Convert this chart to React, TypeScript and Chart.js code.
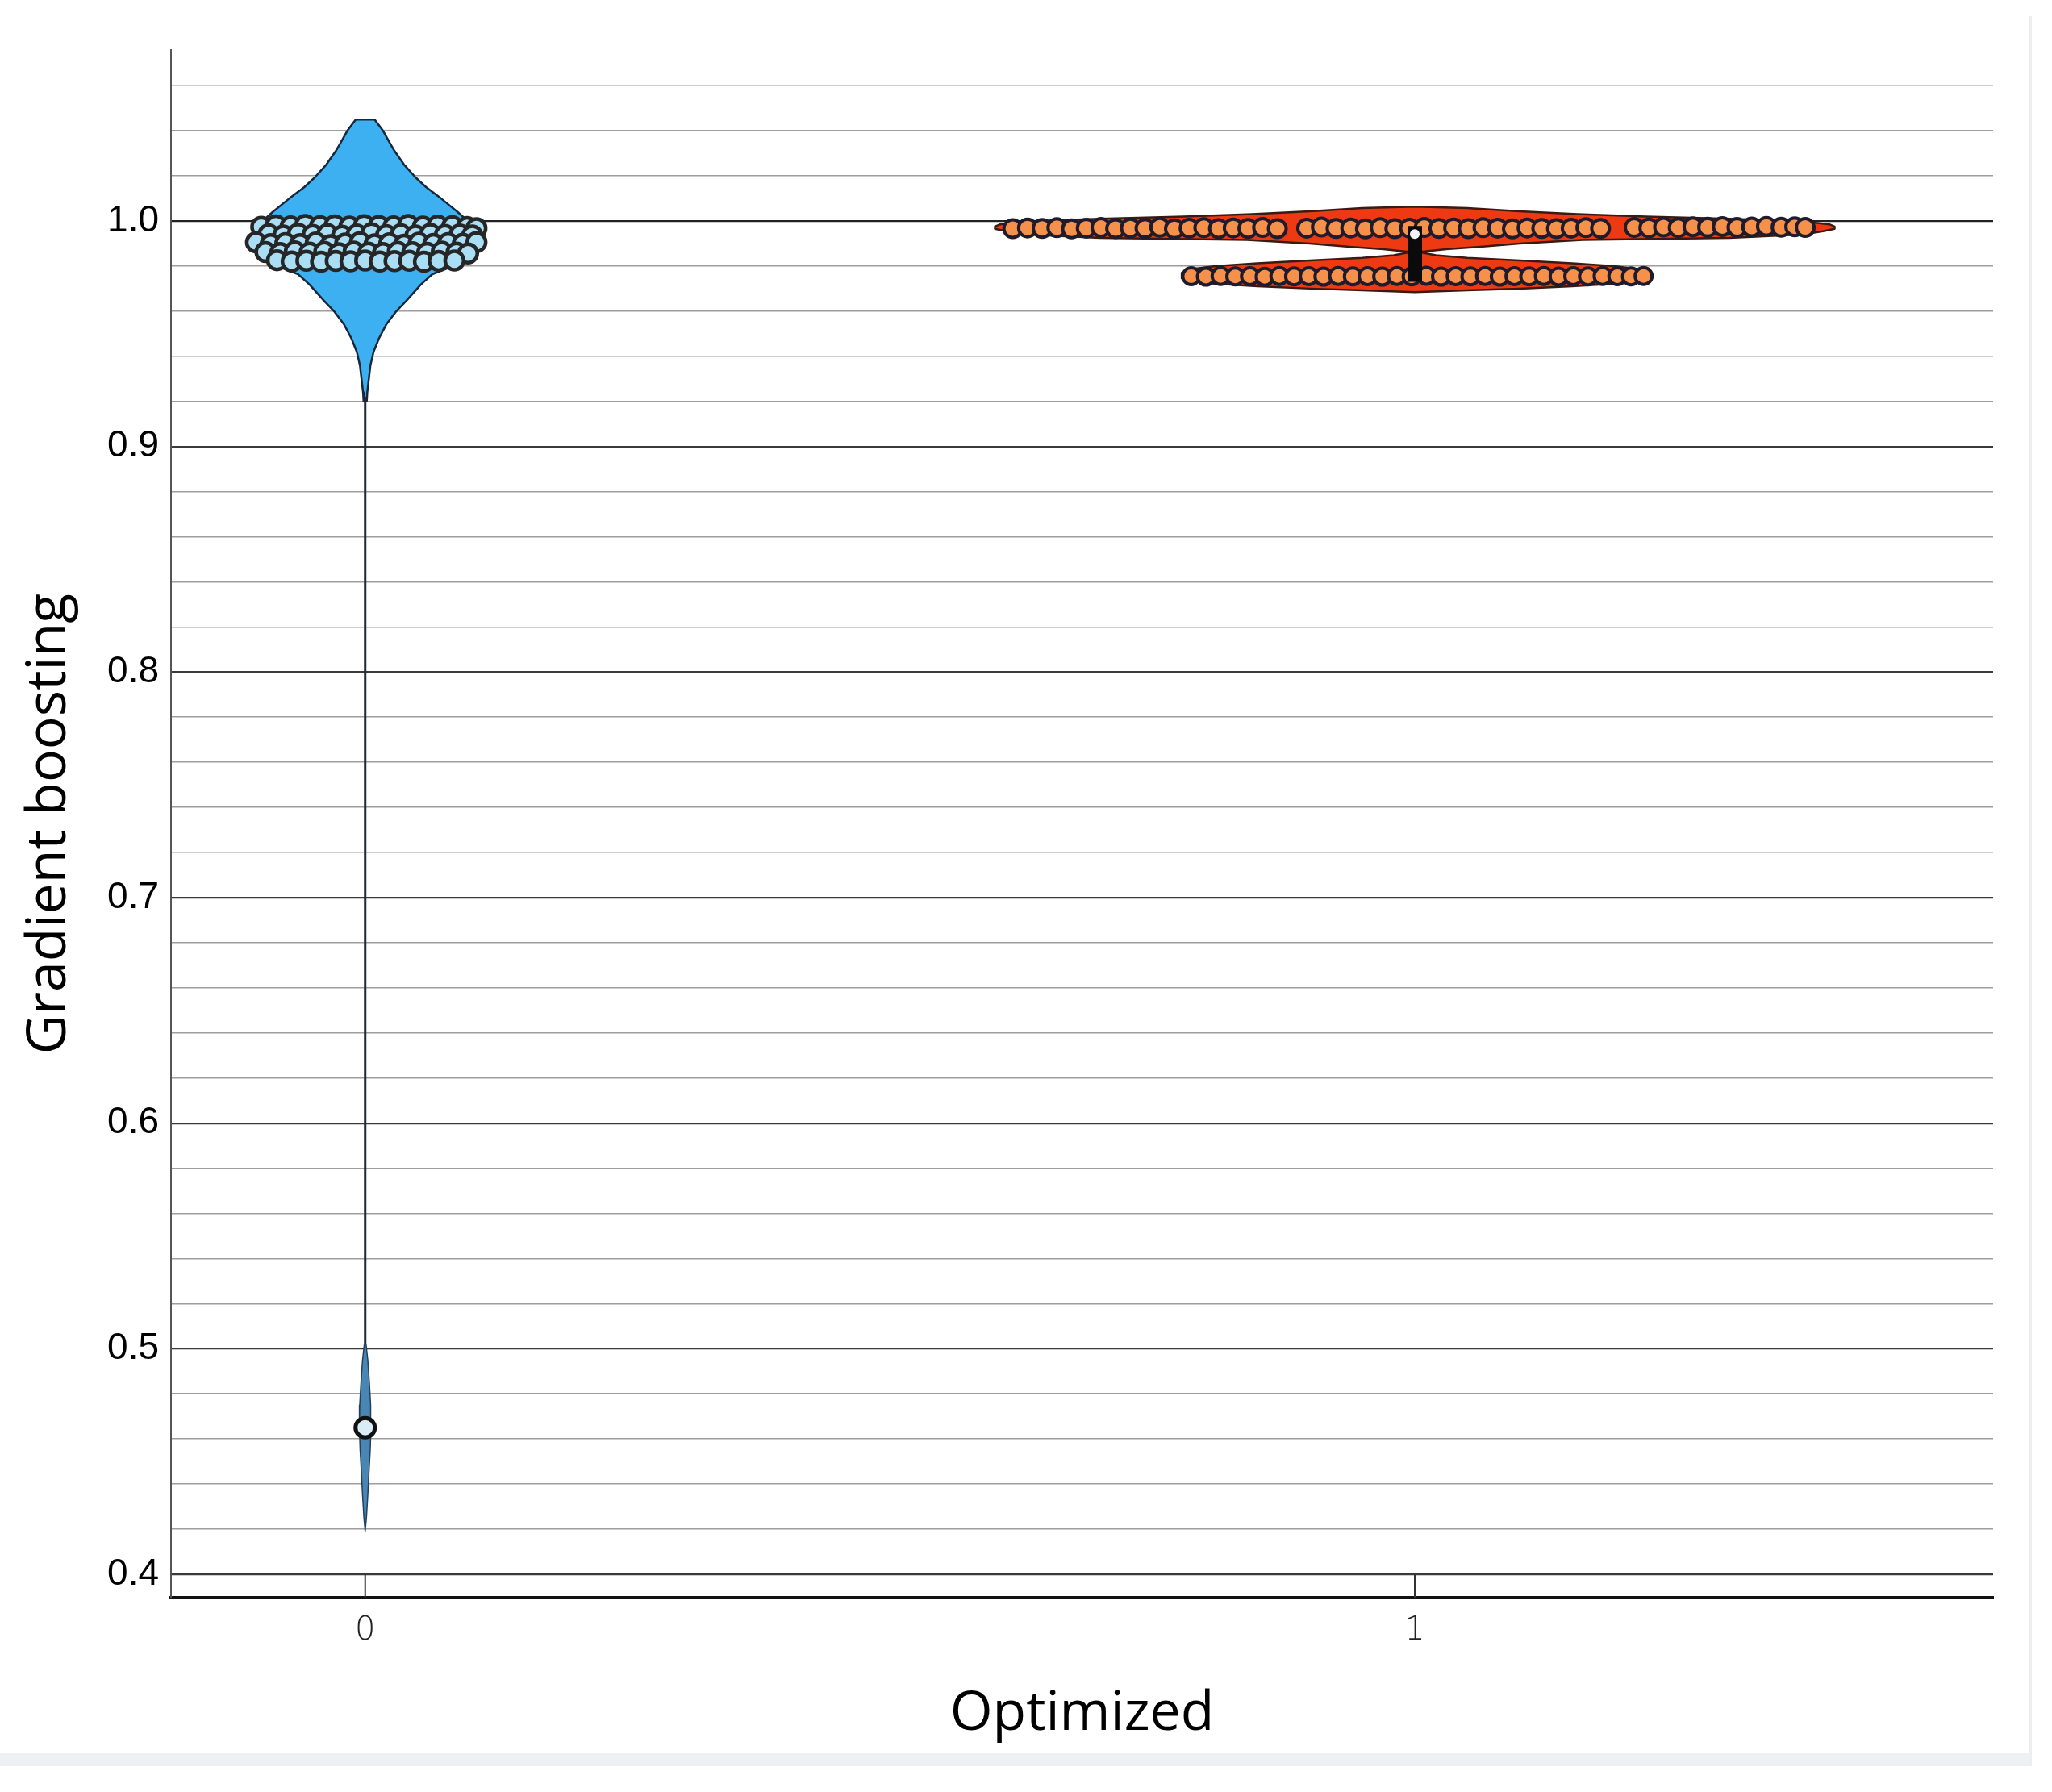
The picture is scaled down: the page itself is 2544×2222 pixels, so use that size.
import React, { useEffect, useRef } from 'react';
import { Chart, registerables } from 'chart.js';

Chart.register(...registerables);

const W = 2544;
const H = 2222;

// ---- axes / categories ----
const categories = ['0', '1'];
const xTickValues = [0, 1];
const yMajorTicks = [0.4, 0.5, 0.6, 0.7, 0.8, 0.9, 1.0];
const yMajorLabels = ['0.4', '0.5', '0.6', '0.7', '0.8', '0.9', '1.0'];
const yGridTicks = [
  0.40, 0.42, 0.44, 0.46, 0.48, 0.50, 0.52, 0.54, 0.56, 0.58, 0.60, 0.62, 0.64, 0.66, 0.68,
  0.70, 0.72, 0.74, 0.76, 0.78, 0.80, 0.82, 0.84, 0.86, 0.88, 0.90, 0.92, 0.94, 0.96, 0.98,
  1.00, 1.02, 1.04, 1.06,
];

// ---- Optimized = 0 (blue) ----
const blueBodyY = [1.0450, 1.0400, 1.0350, 1.0310, 1.0250, 1.0193, 1.0150, 1.0097, 1.0040, 0.9990, 0.9900, 0.9820, 0.9764, 0.9718, 0.9650, 0.9596, 0.9540, 0.9478, 0.9420, 0.9360, 0.9300, 0.9240, 0.9200];
const blueBodyHalfWidth = [0.009, 0.017, 0.023, 0.028, 0.037, 0.048, 0.058, 0.073, 0.088, 0.100, 0.104, 0.095, 0.064, 0.053, 0.040, 0.029, 0.020, 0.013, 0.008, 0.005, 0.0035, 0.002, 0.0015];
const blueStemY = [0.9220, 0.5020];
const blueTailY = [0.5020, 0.4950, 0.4850, 0.4750, 0.4650, 0.4550, 0.4450, 0.4350, 0.4250, 0.4190];
const blueTailHalfWidth = [0.0008, 0.0025, 0.0040, 0.0052, 0.0055, 0.0048, 0.0036, 0.0025, 0.0012, 0];
const blueOutlierY = [0.465];
const blueDotOffset = [
  // row near 0.9977
  -0.099, -0.085, -0.071, -0.057, -0.043, -0.029, -0.015, -0.001, 0.013, 0.027, 0.041, 0.055, 0.069, 0.083, 0.097, 0.106,
  // staggered row near 0.9940
  -0.092, -0.078, -0.064, -0.050, -0.036, -0.022, -0.008, 0.006, 0.020, 0.034, 0.048, 0.062, 0.076, 0.090, 0.102,
  // row near 0.9900
  -0.104, -0.090, -0.076, -0.062, -0.047, -0.033, -0.019, -0.005, 0.009, 0.023, 0.037, 0.051, 0.065, 0.079, 0.093, 0.106,
  // staggered row near 0.9862
  -0.095, -0.081, -0.067, -0.053, -0.039, -0.025, -0.011, 0.003, 0.017, 0.031, 0.045, 0.059, 0.073, 0.087, 0.098,
  // row near 0.9823
  -0.084, -0.070, -0.056, -0.042, -0.028, -0.014, 0.000, 0.014, 0.028, 0.042, 0.056, 0.070, 0.085,
];
const blueDotY = [
  0.9974, 0.9980, 0.9976, 0.9982, 0.9977, 0.9980, 0.9975, 0.9981, 0.9978, 0.9976, 0.9982, 0.9975, 0.9979, 0.9977, 0.9973, 0.9968,
  0.9941, 0.9936, 0.9944, 0.9938, 0.9942, 0.9935, 0.9940, 0.9945, 0.9937, 0.9941, 0.9936, 0.9943, 0.9938, 0.9940, 0.9936,
  0.9905, 0.9897, 0.9902, 0.9897, 0.9904, 0.9893, 0.9900, 0.9906, 0.9896, 0.9901, 0.9894, 0.9903, 0.9898, 0.9902, 0.9899, 0.9906,
  0.9862, 0.9858, 0.9865, 0.9860, 0.9863, 0.9857, 0.9864, 0.9860, 0.9858, 0.9863, 0.9861, 0.9859, 0.9864, 0.9860, 0.9856,
  0.9826, 0.9820, 0.9824, 0.9819, 0.9823, 0.9821, 0.9825, 0.9820, 0.9822, 0.9824, 0.9819, 0.9823, 0.9825,
];

// ---- Optimized = 1 (red) ----
const redBodyY = [1.0063, 1.0057, 1.0043, 1.0030, 1.0020, 1.0010, 0.9998, 0.9985, 0.9975, 0.9965, 0.9955, 0.9940, 0.9925, 0.9916, 0.9900, 0.9885, 0.9875, 0.9862, 0.9848, 0.9836, 0.9825, 0.9812, 0.9800, 0.9785, 0.9770, 0.9745, 0.9725, 0.9710, 0.9700, 0.9692, 0.9684];
const redBodyHalfWidth = [0, 0.05, 0.10, 0.155, 0.22, 0.30, 0.37, 0.395, 0.40, 0.40, 0.39, 0.37, 0.30, 0.16, 0.10, 0.06, 0.03, 0.004, 0.02, 0.05, 0.10, 0.15, 0.19, 0.215, 0.222, 0.222, 0.20, 0.15, 0.10, 0.05, 0];
const redBoxY = [0.9730, 0.9978];
const redMedianY = [0.9942];
const redUpperOffset = [
  -0.383, -0.369, -0.355, -0.341, -0.327, -0.313, -0.299, -0.285, -0.271, -0.257, -0.243, -0.229,
  -0.215, -0.201, -0.187, -0.173, -0.159, -0.145, -0.131, -0.103, -0.089, -0.075, -0.061, -0.047,
  -0.033, -0.019, -0.005, 0.009, 0.023, 0.037, 0.051, 0.065, 0.079, 0.093, 0.107, 0.121,
  0.135, 0.149, 0.163, 0.177, 0.209, 0.223, 0.237, 0.251, 0.265, 0.279, 0.293, 0.307,
  0.321, 0.335, 0.349, 0.362, 0.372,
];
const redUpperY = [
  0.9966, 0.9969, 0.9967, 0.9970, 0.9965, 0.9968, 0.9971, 0.9966, 0.9969, 0.9967, 0.9972, 0.9965,
  0.9968, 0.9970, 0.9966, 0.9969, 0.9967, 0.9971, 0.9966, 0.9968, 0.9973, 0.9967, 0.9969, 0.9965,
  0.9970, 0.9966, 0.9968, 0.9971, 0.9967, 0.9969, 0.9966, 0.9970, 0.9968, 0.9965, 0.9969, 0.9967,
  0.9966, 0.9968, 0.9970, 0.9967, 0.9971, 0.9969, 0.9973, 0.9970, 0.9974, 0.9972, 0.9975, 0.9971,
  0.9973, 0.9976, 0.9972, 0.9974, 0.9971,
];
const redLowerOffset = [
  -0.213, -0.199, -0.185, -0.171, -0.157, -0.143, -0.129, -0.115, -0.101, -0.087, -0.073, -0.059,
  -0.045, -0.031, -0.017, -0.003, 0.011, 0.025, 0.039, 0.053, 0.067, 0.081, 0.095, 0.109,
  0.123, 0.137, 0.151, 0.165, 0.179, 0.193, 0.206, 0.218,
];
const redLowerY = [
  0.9755, 0.9753, 0.9756, 0.9754, 0.9755, 0.9752, 0.9756, 0.9754, 0.9755, 0.9753, 0.9756, 0.9754,
  0.9755, 0.9753, 0.9756, 0.9754, 0.9757, 0.9753, 0.9755, 0.9754, 0.9756, 0.9753, 0.9755, 0.9754,
  0.9756, 0.9753, 0.9755, 0.9754, 0.9756, 0.9755, 0.9754, 0.9756,
];

// ---- helpers ----
function violinPolygon(center: number, ys: number[], ws: number[]) {
  const left = ys.map((y, i) => ({ x: center - ws[i], y }));
  const right = ys.map((y, i) => ({ x: center + ws[i], y })).reverse();
  return [...left, ...right, left[0]];
}
function dots(center: number, offs: number[], ys: number[]) {
  return offs.map((o, i) => ({ x: center + o, y: ys[i] }));
}
function vline(center: number, ys: number[]) {
  return ys.map((y) => ({ x: center, y }));
}
function majorIndex(v: number) {
  return yMajorTicks.findIndex((m) => Math.abs(m - v) < 1e-6);
}

const innerTickPlugin = {
  id: 'innerTicks',
  beforeDatasetsDraw(chart: any) {
    const { ctx, scales, chartArea } = chart;
    const yTop = scales.y.getPixelForValue(yMajorTicks[0]);
    ctx.save();
    ctx.strokeStyle = '#333';
    ctx.lineWidth = 2;
    xTickValues.forEach((v) => {
      const px = scales.x.getPixelForValue(v);
      ctx.beginPath();
      ctx.moveTo(px, yTop);
      ctx.lineTo(px, chartArea.bottom);
      ctx.stroke();
    });
    ctx.restore();
  },
};

export default function App() {
  const ref = useRef<HTMLCanvasElement | null>(null);

  useEffect(() => {
    if (!ref.current) return;
    const poly = {
      showLine: true,
      fill: 'shape',
      pointRadius: 0,
      pointHoverRadius: 0,
      tension: 0,
      borderJoinStyle: 'round',
    };
    const chart = new Chart(ref.current, {
      type: 'line',
      data: {
        datasets: [
          {
            label: 'blue outlier',
            data: vline(0, blueOutlierY),
            showLine: false,
            pointRadius: 12,
            pointBorderWidth: 5,
            pointBackgroundColor: '#d8edf6',
            pointBorderColor: '#111111',
          },
          {
            label: 'red median',
            data: vline(1, redMedianY),
            showLine: false,
            pointRadius: 6,
            pointBorderWidth: 0,
            pointBackgroundColor: '#f4f4f4',
          },
          {
            label: 'red box',
            data: vline(1, redBoxY),
            showLine: true,
            fill: false,
            borderColor: '#0b0b0b',
            borderWidth: 18,
            borderCapStyle: 'butt',
            pointRadius: 0,
          },
          {
            label: 'red upper points',
            data: dots(1, redUpperOffset, redUpperY),
            showLine: false,
            pointRadius: 11,
            pointBorderWidth: 4,
            pointBackgroundColor: '#f6914c',
            pointBorderColor: '#1f1b2c',
          },
          {
            label: 'red lower points',
            data: dots(1, redLowerOffset, redLowerY),
            showLine: false,
            pointRadius: 10.5,
            pointBorderWidth: 4,
            pointBackgroundColor: '#f6914c',
            pointBorderColor: '#1f1b2c',
          },
          {
            label: 'red violin',
            data: violinPolygon(1, redBodyY, redBodyHalfWidth),
            ...poly,
            backgroundColor: '#ee3a12',
            borderColor: '#3a1a12',
            borderWidth: 2.5,
          },
          {
            label: 'blue points',
            data: dots(0, blueDotOffset, blueDotY),
            showLine: false,
            pointRadius: 11.5,
            pointBorderWidth: 4.5,
            pointBackgroundColor: '#a9def5',
            pointBorderColor: '#262626',
          },
          {
            label: 'blue tail',
            data: violinPolygon(0, blueTailY, blueTailHalfWidth),
            ...poly,
            backgroundColor: '#4a86b4',
            borderColor: '#23405c',
            borderWidth: 1.5,
          },
          {
            label: 'blue stem',
            data: vline(0, blueStemY),
            showLine: true,
            fill: false,
            borderColor: '#1e2a36',
            borderWidth: 3,
            pointRadius: 0,
          },
          {
            label: 'blue violin',
            data: violinPolygon(0, blueBodyY, blueBodyHalfWidth),
            ...poly,
            backgroundColor: '#3db0f2',
            borderColor: '#17283a',
            borderWidth: 2.5,
          },
        ] as any,
      },
      options: {
        responsive: false,
        animation: false,
        devicePixelRatio: 1,
        events: [],
        layout: { padding: { top: 62, right: 73, bottom: 0, left: 0 } },
        plugins: {
          legend: { display: false },
          tooltip: { enabled: false },
        },
        scales: {
          x: {
            type: 'linear',
            min: -0.185,
            max: 1.551,
            bounds: 'data',
            afterBuildTicks: (s: any) => {
              s.ticks = xTickValues.map((v) => ({ value: v }));
            },
            afterFit: (s: any) => {
              s.height = 241;
            },
            grid: { display: true, drawOnChartArea: false, drawTicks: false },
            border: { display: true, color: '#111111', width: 4 },
            ticks: {
              autoSkip: false,
              maxRotation: 0,
              padding: 18,
              color: '#222222',
              font: { family: "'DejaVu Sans', sans-serif", size: 40, weight: '200' },
              callback: (v: any) => {
                const i = xTickValues.indexOf(Number(v));
                return i >= 0 ? categories[i] : '';
              },
            },
            title: {
              display: true,
              text: 'Optimized',
              color: '#000000',
              font: { family: "'Open Sans', sans-serif", size: 68 },
              padding: { top: 0, bottom: 56 },
            },
          },
          y: {
            type: 'linear',
            min: 0.3896,
            max: 1.0758,
            bounds: 'data',
            afterBuildTicks: (s: any) => {
              s.ticks = yGridTicks.map((v) => ({ value: v }));
            },
            afterFit: (s: any) => {
              s.width = 212;
            },
            grid: {
              drawTicks: false,
              color: (c: any) => {
                const v = c.tick ? c.tick.value : 0;
                if (Math.abs(v - 1.0) < 1e-6) return '#222222';
                return majorIndex(v) >= 0 ? '#3a3a3a' : '#9e9e9e';
              },
              lineWidth: (c: any) => {
                const v = c.tick ? c.tick.value : 0;
                return majorIndex(v) >= 0 ? 2.2 : 1.6;
              },
            },
            border: { display: true, color: '#555555', width: 2 },
            ticks: {
              autoSkip: false,
              padding: 15,
              color: '#000000',
              font: { family: "'Liberation Sans', Arial, sans-serif", size: 46 },
              callback: (v: any) => {
                const i = majorIndex(Number(v));
                return i >= 0 ? yMajorLabels[i] : '';
              },
            },
            title: {
              display: true,
              text: 'Gradient boosting',
              color: '#000000',
              font: { family: "'Open Sans', sans-serif", size: 68 },
              padding: { top: 21, bottom: 0 },
            },
          },
        },
      } as any,
      plugins: [innerTickPlugin],
    });
    return () => chart.destroy();
  }, []);

  return (
    <div style={{ position: 'fixed', left: 0, top: 0, width: W, height: H, background: '#ffffff', overflow: 'hidden' }}>
      <canvas ref={ref} width={W} height={H} style={{ display: 'block', width: W, height: H }} />
      <div style={{ position: 'absolute', left: 0, top: 2174, width: 2518, height: 16, background: '#eef0f4' }} />
      <div style={{ position: 'absolute', left: 2515, top: 20, width: 4, height: 2170, background: '#eeeeee' }} />
    </div>
  );
}
